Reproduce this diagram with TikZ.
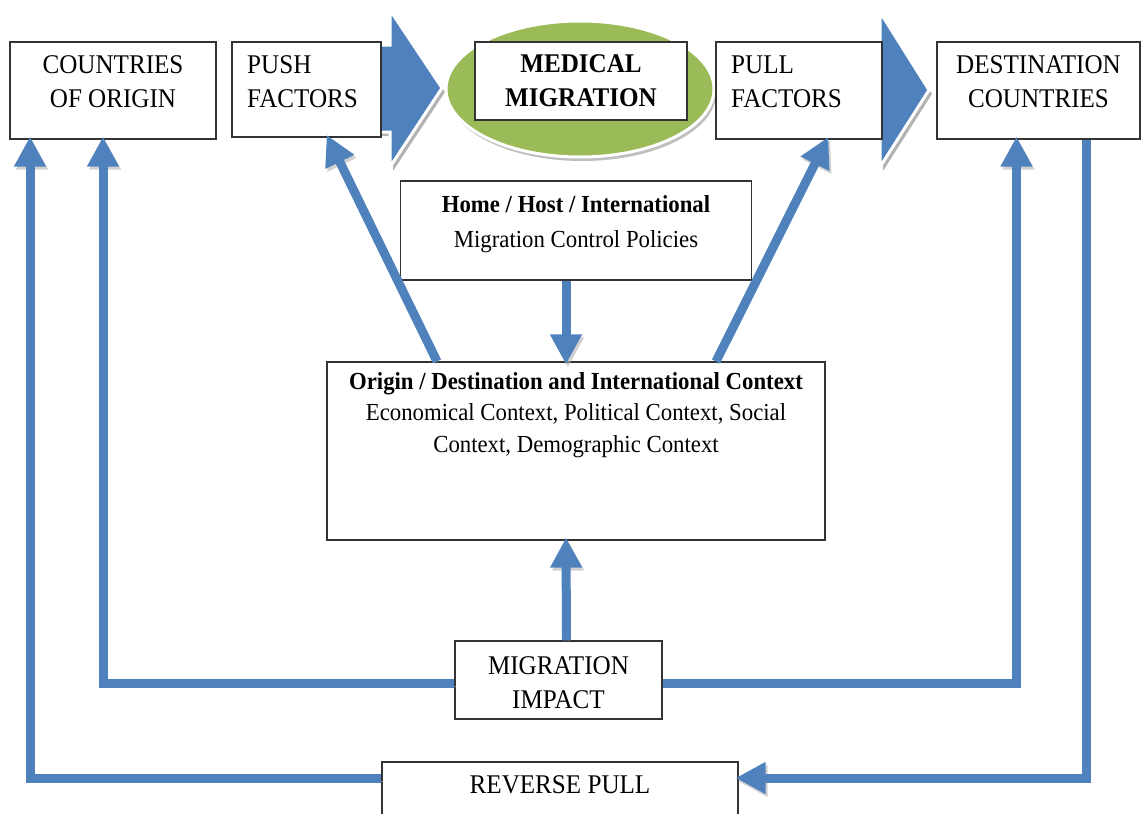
\documentclass[tikz,border=0pt]{standalone}
\usepackage{fontspec}
\setmainfont{Liberation Serif}[FakeStretch=0.93]
\usetikzlibrary{arrows.meta,positioning,shapes.geometric}
\definecolor{flowblue}{HTML}{4F81BD}
\definecolor{olivegreen}{HTML}{9BBB59}

\begin{document}
\begin{tikzpicture}[x=1pt,y=-1pt,
    box/.style={draw=black!80, fill=white, line width=1.2pt, inner sep=0pt},
    big/.style={font=\fontsize{27}{34}\selectfont, align=center, inner sep=0pt},
    small/.style={font=\fontsize{24.5}{31.5}\selectfont, align=center, inner sep=0pt},
    flow/.style={draw=flowblue, line width=9pt, shorten >=-3pt,
        preaction={draw=black!30, opacity=0.6, transform canvas={shift={(2pt,-3pt)}}},
        -{Triangle[width=30pt,length=30pt]}},
    chevron/.style={fill=flowblue, draw=white, line width=3pt,
        preaction={fill=black!30, transform canvas={shift={(3pt,-4pt)}}}}]
    \useasboundingbox (0,0) rectangle (1141,814);
    \clip (0,0) rectangle (1141,814);
    % Big arrows behind the factor boxes
    \draw[chevron] (372,45) -- (390,45) -- (390,10) -- (442,88) -- (390,167) -- (390,132) -- (372,132) -- cycle;
    \draw[chevron] (868,45) -- (880,45) -- (880,12) -- (929,90) -- (880,167) -- (880,132) -- (868,132) -- cycle;
    % Medical migration oval
    \node[ellipse, fill=olivegreen, draw=white, line width=3pt, minimum width=268, minimum height=136,
        preaction={fill=black!25, transform canvas={shift={(2pt,-4pt)}}}] (oval) at (580,89) {};
    % Top row
    \node[box, minimum width=206, minimum height=97] (origin) at (113,90.5) {};
    \node[big] (originlbl) at (113,82) {COUNTRIES\\OF ORIGIN};
    \node[box, minimum width=149, minimum height=95] (push) at (306.5,89.5) {};
    \node[big, anchor=west, align=left] (pushlbl) at (247,82) {PUSH\\FACTORS};
    \node[box, minimum width=212, minimum height=78, font=\bfseries\fontsize{27}{34}\selectfont, align=center] (medical) at (581,81) {MEDICAL\\MIGRATION};
    \node[box, minimum width=166, minimum height=97] (pull) at (799,90.5) {};
    \node[big, anchor=west, align=left] (pulllbl) at (731,82) {PULL\\FACTORS};
    \node[box, minimum width=203, minimum height=97] (dest) at (1038.5,90.5) {};
    \node[big] (destlbl) at (1038.5,82) {DESTINATION\\COUNTRIES};
    % Middle boxes
    \node[box, minimum width=351, minimum height=99] (policy) at (576,230.5) {};
    \node[small] (policylbl) at (576,224) {\textbf{Home / Host / International}\\[4pt]Migration Control Policies};
    \node[box, minimum width=498, minimum height=178] (context) at (576,451) {};
    \node[small] (contextlbl) at (576,415) {\textbf{Origin / Destination and International Context}\\Economical Context, Political Context, Social\\Context, Demographic Context};
    % Bottom boxes
    \node[box, minimum width=207, minimum height=78] (impact) at (558.5,680) {};
    \node[big] (impactlbl) at (558.5,683) {MIGRATION\\IMPACT};
    \node[box, minimum width=356, minimum height=76] (reverse) at (560,800) {};
    \node[big] (reverselbl) at (560,785) {REVERSE PULL};
    % Connectors
    \draw[flow] ([xshift=-10pt]policy.south) -- ([xshift=-10pt]context.north);
    \draw[flow] ([xshift=8pt]impact.north) -- ([xshift=-10pt]context.south);
    \draw[flow] ([xshift=-139pt]context.north) -- ([xshift=21.5pt]push.south);
    \draw[flow] ([xshift=140pt]context.north) -- ([xshift=28pt]pull.south);
    \draw[flow] ([yshift=-3pt]impact.west) -| ([xshift=-10pt]origin.south);
    \draw[flow] ([yshift=-3pt]impact.east) -| ([xshift=-22pt]dest.south);
    \draw[flow] ([yshift=22pt]reverse.west) -| ([xshift=-83pt]origin.south);
    \draw[flow] ([xshift=48pt]dest.south) |- ([yshift=22pt]reverse.east);
\end{tikzpicture}
\end{document}
